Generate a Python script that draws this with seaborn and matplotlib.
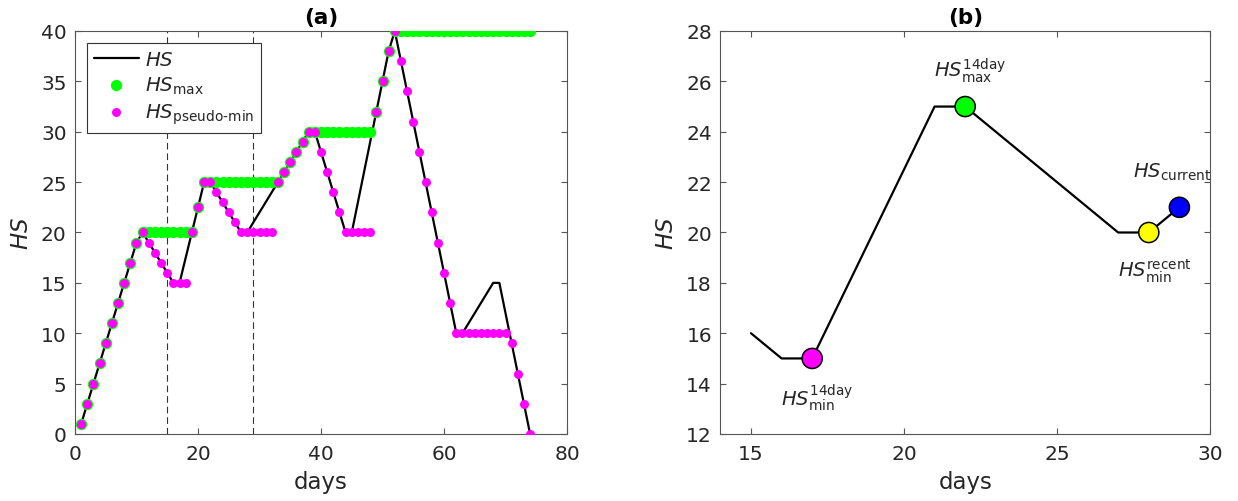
import numpy as np
import pandas as pd
import seaborn as sns
import matplotlib.pyplot as plt

# ---- data -------------------------------------------------------------
days = list(range(1, 75))

hs = [1, 3, 5, 7, 9, 11, 13, 15, 17, 19, 20,
      19, 18, 17, 16,
      15, 15,
      17.5, 20, 22.5, 25, 25,
      24, 23, 22, 21, 20,
      20,
      21, 22, 23, 24, 25,
      26, 27, 28, 29, 30,
      30,
      28, 26, 24, 22, 20,
      20,
      23, 26, 29, 32, 35, 38, 40,
      37, 34, 31, 28, 25, 22, 19, 16, 13, 10,
      10,
      11, 12, 13, 14, 15, 15,
      12, 9, 6, 3, 0]

hs_max = ([1, 3, 5, 7, 9, 11, 13, 15, 17, 19, 20]
          + [20] * 8
          + [22.5]
          + [25] * 13
          + [26, 27, 28, 29]
          + [30] * 11
          + [32, 35, 38]
          + [40] * 23)

hs_pseudo_min = ([1, 3, 5, 7, 9, 11, 13, 15, 17, 19, 20]
                 + [19, 18, 17, 16]
                 + [15] * 3
                 + [20]
                 + [22.5]
                 + [25, 25]
                 + [24, 23, 22, 21]
                 + [20] * 6
                 + [25, 26, 27, 28, 29, 30, 30]
                 + [28, 26, 24, 22]
                 + [20] * 5
                 + [32, 35, 38, 40]
                 + [37, 34, 31, 28, 25, 22, 19, 16, 13]
                 + [10] * 9
                 + [9, 6, 3, 0])

# 14-day window shown in panel (b)
window_start, window_end = 15, 29

# key days inside the window
key_days = [17, 22, 28, 29]
key_names = ['min14', 'max14', 'recentmin', 'current']
key_labels = [r'$HS^{\mathrm{14day}}_{\mathrm{min}}$',
              r'$HS^{\mathrm{14day}}_{\mathrm{max}}$',
              r'$HS^{\mathrm{recent}}_{\mathrm{min}}$',
              r'$HS_{\mathrm{current}}$']
key_colors = ['#ff00ff', '#00ff00', '#ffff00', '#0000ff']

# ---- style ------------------------------------------------------------
sns.set_theme(style='white')
plt.rcParams['font.family'] = ['DejaVu Sans']
plt.rcParams['mathtext.fontset'] = 'dejavusans'

frame_col = '#555555'
text_col = '#262626'

df = pd.DataFrame({'day': days, 'HS': hs, 'HSmax': hs_max,
                   'HSpmin': hs_pseudo_min})

fig = plt.figure(figsize=(12.38, 5.02), dpi=100)
ax_a = fig.add_axes([0.06058, 0.13347, 0.39742, 0.80279])
ax_b = fig.add_axes([0.58190, 0.13347, 0.39548, 0.80279])

# ---- panel (a) --------------------------------------------------------
for xv in (window_start, window_end):
    ax_a.axvline(xv, color='#333333', lw=0.8, ls=(0, (6, 3.5)), zorder=1)

sns.lineplot(data=df, x='day', y='HS', ax=ax_a, color='black', lw=1.6,
             label=r'$HS$', zorder=2)
sns.scatterplot(data=df, x='day', y='HSmax', ax=ax_a, color='#00ff00',
                s=66, linewidth=0, label=r'$HS_{\mathrm{max}}$', zorder=3)
sns.scatterplot(data=df, x='day', y='HSpmin', ax=ax_a, color='#ff00ff',
                s=42, linewidth=0, label=r'$HS_{\text{pseudo-min}}$',
                zorder=4)

ax_a.set_xlim(0, 80)
ax_a.set_ylim(0, 40)
ax_a.set_xticks(range(0, 81, 20))
ax_a.set_yticks(range(0, 41, 5))
ax_a.set_title('(a)', fontweight='bold', fontsize=15.5, pad=6, color='black')

leg = ax_a.legend(loc='upper left', bbox_to_anchor=(0.024, 0.97),
                  borderaxespad=0, fontsize=14.2, frameon=True,
                  fancybox=False, framealpha=1, edgecolor='#333333',
                  handlelength=2.3, handletextpad=0.3, labelspacing=0.28,
                  borderpad=0.35)
leg.get_frame().set_linewidth(0.8)

# ---- panel (b) --------------------------------------------------------
win = df[(df['day'] >= window_start) & (df['day'] <= window_end)]
sns.lineplot(data=win, x='day', y='HS', ax=ax_b, color='black', lw=1.6,
             zorder=2)

key_df = pd.DataFrame({'day': key_days,
                       'HS': [hs[d - 1] for d in key_days],
                       'kind': key_names})
sns.scatterplot(data=key_df, x='day', y='HS', hue='kind', ax=ax_b,
                palette=dict(zip(key_names, key_colors)), s=210,
                edgecolor='black', linewidth=1.1, legend=False, zorder=3)

offsets = [(3.6, -27.7), (3.8, 26.9), (4.3, -27.4), (-4.8, 26.1)]
for d, lab, off in zip(key_days, key_labels, offsets):
    ax_b.annotate(lab, (d, hs[d - 1]), xytext=off, textcoords='offset points',
                  ha='center', va='center', fontsize=14, color=text_col)

ax_b.set_xlim(14, 30)
ax_b.set_ylim(12, 28)
ax_b.set_xticks(range(15, 31, 5))
ax_b.set_yticks(range(12, 29, 2))
ax_b.set_title('(b)', fontweight='bold', fontsize=15.5, pad=6, color='black')

# ---- shared axis styling ---------------------------------------------
for ax in (ax_a, ax_b):
    ax.set_xlabel('days', fontsize=16.5, color=text_col, labelpad=5)
    ax.set_ylabel(r'$HS$', fontsize=16.5, color=text_col, labelpad=6)
    ax.tick_params(axis='both', direction='in', bottom=True, left=True,
                   top=True, right=True, length=4, width=0.8,
                   color=frame_col, labelcolor=text_col, labelsize=14.5)
    ax.tick_params(axis='x', pad=7.5)
    ax.tick_params(axis='y', pad=6)
    for sp in ax.spines.values():
        sp.set_visible(True)
        sp.set_color(frame_col)
        sp.set_linewidth(0.8)

fig.savefig('out.png', dpi=100)
